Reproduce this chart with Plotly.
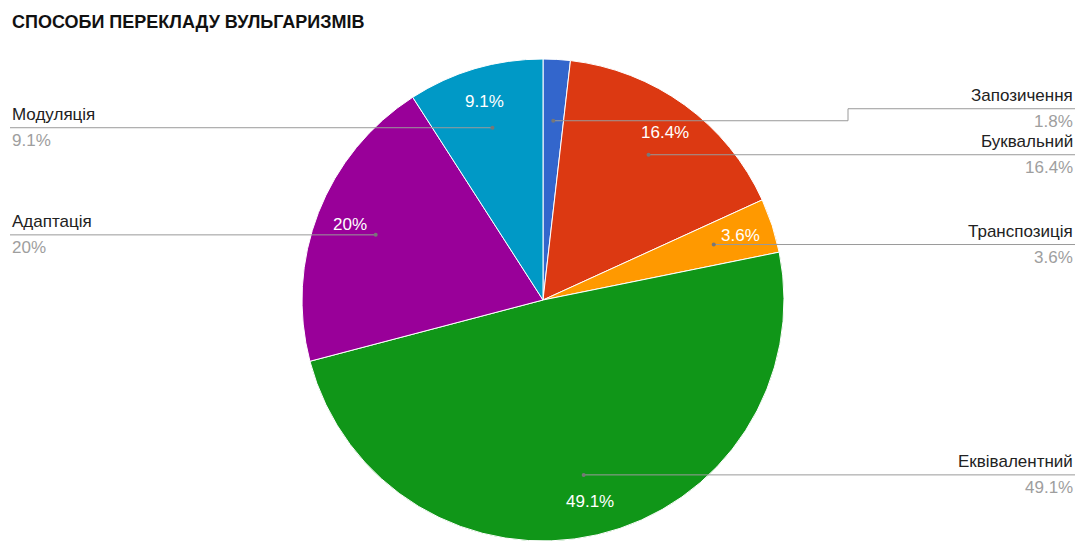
import math
import plotly.graph_objects as go

W, H = 1077, 541

# ---- data ----
categories = ["Запозичення", "Буквальний", "Транспозиція", "Еквівалентний", "Адаптація", "Модуляція"]
counts = [1, 9, 2, 27, 11, 5]
colors = ["#3366cc", "#dc3912", "#ff9900", "#109618", "#990099", "#0099c6"]
show_inside = [False, True, True, True, True, True]
title_text = "СПОСОБИ ПЕРЕКЛАДУ ВУЛЬГАРИЗМІВ"

# ---- geometry (pixels) ----
CX, CY, R = 543, 300, 241
ANCHOR_F = 0.745
INSIDE_F = 0.86
FONT = "Liberation Sans, Arial, sans-serif"
FS = 17


def px(x):
    return x / W


def py(y):
    return 1 - y / H


def fmt(p):
    s = f"{p:.1f}"
    if s.endswith(".0"):
        s = s[:-2]
    return s + "%"


total = sum(counts)
pcts = [c / total * 100 for c in counts]

fig = go.Figure()
fig.add_trace(go.Pie(
    labels=categories,
    values=counts,
    marker=dict(colors=colors, line=dict(color="white", width=1)),
    sort=False,
    direction="clockwise",
    rotation=0,
    textinfo="none",
    hoverinfo="skip",
    showlegend=False,
    domain=dict(x=[px(CX - R), px(CX + R)], y=[py(CY + R), py(CY - R)]),
))

annotations = []
shapes = []

cum = 0
mids = []
for c in counts:
    mids.append((cum + c / 2) / total * 2 * math.pi)
    cum += c

anchors = []
for a in mids:
    anchors.append((CX + ANCHOR_F * R * math.sin(a), CY - ANCHOR_F * R * math.cos(a)))

for i, a in enumerate(mids):
    if not show_inside[i]:
        continue
    x = CX + INSIDE_F * R * math.sin(a)
    y = CY - INSIDE_F * R * math.cos(a)
    annotations.append(dict(x=px(x), y=py(y), xref="paper", yref="paper", text=fmt(pcts[i]),
                            showarrow=False, xanchor="center", yanchor="middle",
                            font=dict(family=FONT, size=FS, color="white")))

GAP = 46
label_y = [ay for (_, ay) in anchors]
for side in ("right", "left"):
    idx = [i for i, a in enumerate(mids) if (math.sin(a) > 0) == (side == "right")]
    idx.sort(key=lambda i: anchors[i][1])
    for k in range(len(idx) - 2, -1, -1):
        i, j = idx[k], idx[k + 1]
        label_y[i] = min(anchors[i][1], label_y[j] - GAP)

LINE_C = "#9a9a9a"
for i, a in enumerate(mids):
    ax, ay = anchors[i]
    right = math.sin(a) > 0
    edge = 1075 if right else 10
    ly = label_y[i]
    if abs(ly - ay) < 0.5:
        shapes.append(dict(type="line", xref="paper", yref="paper", x0=px(ax), y0=py(ay), x1=px(edge), y1=py(ay),
                           line=dict(color=LINE_C, width=1)))
    else:
        step = CX + 305 if right else CX - 305
        for (x0, y0, x1, y1) in [(ax, ay, step, ay), (step, ay, step, ly), (step, ly, edge, ly)]:
            shapes.append(dict(type="line", xref="paper", yref="paper", x0=px(x0), y0=py(y0), x1=px(x1), y1=py(y1),
                               line=dict(color=LINE_C, width=1)))
    shapes.append(dict(type="circle", xref="paper", yref="paper", x0=px(ax - 2), x1=px(ax + 2),
                       y0=py(ay + 2), y1=py(ay - 2), fillcolor="#777777", line=dict(width=0)))
    anchor = "right" if right else "left"
    annotations.append(dict(x=px(edge), y=py(ly - 13), xref="paper", yref="paper", text=categories[i],
                            showarrow=False, xanchor=anchor, yanchor="middle",
                            font=dict(family=FONT, size=FS, color="#222222")))
    annotations.append(dict(x=px(edge), y=py(ly + 13), xref="paper", yref="paper", text=fmt(pcts[i]),
                            showarrow=False, xanchor=anchor, yanchor="middle",
                            font=dict(family=FONT, size=FS, color="#9e9e9e")))

annotations.append(dict(x=px(10), y=py(22), xref="paper", yref="paper", text="<b>" + title_text + "</b>",
                        showarrow=False, xanchor="left", yanchor="middle",
                        font=dict(family=FONT, size=18, color="#111111")))

fig.update_layout(
    width=W, height=H, autosize=False,
    margin=dict(l=0, r=0, t=0, b=0),
    paper_bgcolor="white", plot_bgcolor="white",
    annotations=annotations, shapes=shapes,
)

fig.write_html("out.html", config={"displayModeBar": False},
               post_script="document.body.style.margin='0';document.body.style.overflow='hidden';")
